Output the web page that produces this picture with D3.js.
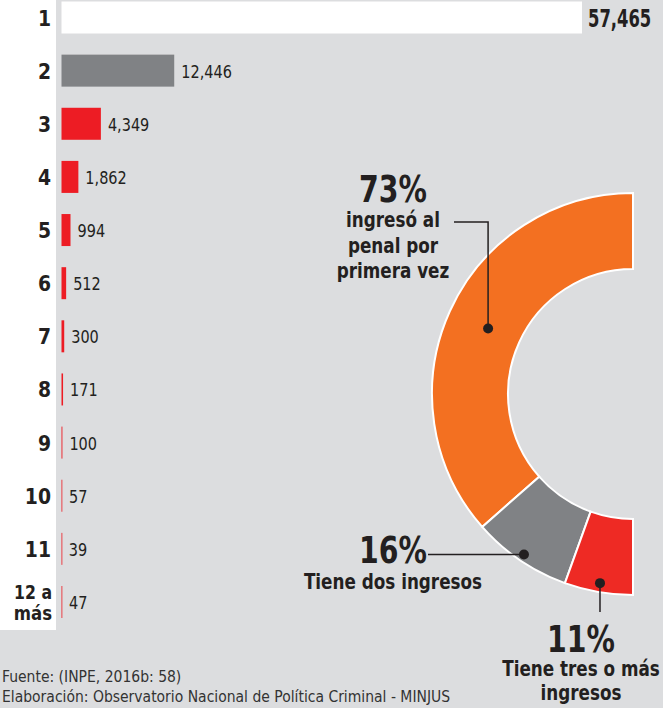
<!DOCTYPE html>
<html lang="es">
<meta charset="utf-8">
<script src="https://d3js.org/d3.v7.min.js"></script>
<style>
  body { margin: 0; background: #fff; }
  svg text { font-family: "DejaVu Sans Condensed", "DejaVu Sans", sans-serif; fill: #231f20; }
  .row { font-size: 22px; font-weight: bold; }
  .val { font-size: 17.5px; }
  .top { font-size: 24px; font-weight: bold; }
  .big { font-size: 38px; font-weight: bold; }
  .lab { font-size: 21px; font-weight: bold; }
  .foot { font-size: 15.5px; fill: #333; }
</style>
<svg id="base" width="668" height="708"></svg>

<script>
    // ingresos por interno
    var categories = ["1", "2", "3", "4", "5", "6", "7", "8", "9", "10", "11", "12 a más"];
    var values = [57465, 12446, 4349, 1862, 994, 512, 300, 171, 100, 57, 39, 47];

    // donut
    var shareNames = ["ingresó al penal por primera vez", "Tiene dos ingresos", "Tiene tres o más ingresos"];
    var shares = [73, 16, 11];

    var svg = d3.select("#base");

    // text squeezed sideways, the original font is a narrow one
    function addText(parent, x, y, str, cls, anchor, sx) {
        return parent.append("text")
            .attr("class", cls)
            .attr("text-anchor", anchor)
            .attr("transform", "translate(" + x + "," + y + ") scale(" + sx + ",1)")
            .text(str);
    }

    svg.append("rect").attr("x", 0).attr("y", 0).attr("width", 663).attr("height", 708).attr("fill", "#dcdddf");
    svg.append("rect").attr("x", 0).attr("y", 0).attr("width", 56).attr("height", 630).attr("fill", "#fff");

    var x = d3.scaleLinear()
        .domain([0, d3.max(values)])
        .range([61.5, 582]);

    var y = d3.scalePoint()
        .domain(categories)
        .range([17.5, 602]);

    var barH = 32;
    function barColor(i) {
        if (i == 0) return "#ffffff";
        if (i == 1) return "#808285";
        return "#ed1c24";
    }

    var bars = svg.append("g");
    bars.selectAll("rect")
        .data(values)
        .enter()
        .append("rect")
        .attr("x", x(0))
        .attr("y", function (d, i) { return y(categories[i]) - barH / 2; })
        .attr("width", function (d) { return Math.max(x(d) - x(0), 0.8); })
        .attr("height", barH)
        .attr("fill", function (d, i) { return barColor(i); });

    var labels = svg.append("g");
    values.forEach(function (d, i) {
        var c = categories[i];
        if (i == 0) {
            addText(labels, x(d) + 6, y(c) + 9, d3.format(",")(d), "top", "start", 0.76);
        } else {
            addText(labels, x(d) + 7, y(c) + 7, d3.format(",")(d), "val", "start", 0.92);
        }
        if (c.indexOf(" ") > 0) {
            var parts = c.split(" ");
            addText(labels, 52, y(c) - 3, parts[0] + " " + parts[1], "row", "end", 0.92).style("font-size", "19px");
            addText(labels, 52, y(c) + 18, parts[2], "row", "end", 0.97).style("font-size", "19px");
        } else {
            addText(labels, 51, y(c) + 8, c, "row", "end", 0.95);
        }
    });

    // donut, half circle on the right edge
    var cx = 633, cy = 394;
    var rIn = 125, rOut = 201;
    var pieColors = ["#f37021", "#808285", "#ee2a24"];

    var pie = d3.pie().sort(null).startAngle(0).endAngle(-Math.PI);
    var arc = d3.arc().innerRadius(rIn).outerRadius(rOut);

    var donut = svg.append("g").attr("transform", "translate(" + cx + "," + cy + ")");
    var slices = pie(shares);

    donut.selectAll("path")
        .data(slices)
        .enter()
        .append("path")
        .attr("d", arc)
        .attr("fill", function (d, i) { return pieColors[i]; })
        .attr("stroke", "#fff")
        .attr("stroke-width", 2);

    var dotR = [159, 194, 192];
    var dots = slices.map(function (s, i) {
        var a = (s.startAngle + s.endAngle) / 2;
        return [cx + dotR[i] * Math.sin(a), cy - dotR[i] * Math.cos(a)];
    });

    // leader lines
    var line = d3.line();
    var leaders = [
        [[454, 222], [dots[0][0], 222], dots[0]],
        [[428, dots[1][1]], dots[1]],
        [dots[2], [dots[2][0], 612]]
    ];
    svg.append("g")
        .selectAll("path")
        .data(leaders)
        .enter()
        .append("path")
        .attr("d", line)
        .attr("fill", "none")
        .attr("stroke", "#231f20")
        .attr("stroke-width", 1.5);

    svg.append("g")
        .selectAll("circle")
        .data(dots)
        .enter()
        .append("circle")
        .attr("cx", function (d) { return d[0]; })
        .attr("cy", function (d) { return d[1]; })
        .attr("r", 5)
        .attr("fill", "#231f20");

    // annotations
    var notes = [
        { x: 393, y: 202, lines: ["ingresó al", "penal por", "primera vez"], y0: 227, dy: 25.5 },
        { x: 393, y: 563, lines: ["Tiene dos ingresos"], y0: 589, dy: 25 },
        { x: 581, y: 652, lines: ["Tiene tres o más", "ingresos"], y0: 676, dy: 24 }
    ];
    var ann = svg.append("g");
    notes.forEach(function (n, i) {
        addText(ann, n.x, n.y, shares[i] + "%", "big", "middle", 0.83);
        n.lines.forEach(function (l, j) {
            addText(ann, n.x, n.y0 + j * n.dy, l, "lab", "middle", 0.89);
        });
    });

    svg.append("text").attr("class", "foot").attr("x", 2).attr("y", 682)
        .text("Fuente: (INPE, 2016b: 58)");
    svg.append("text").attr("class", "foot").attr("x", 2).attr("y", 702)
        .text("Elaboración: Observatorio Nacional de Política Criminal - MINJUS");
</script>
</html>
